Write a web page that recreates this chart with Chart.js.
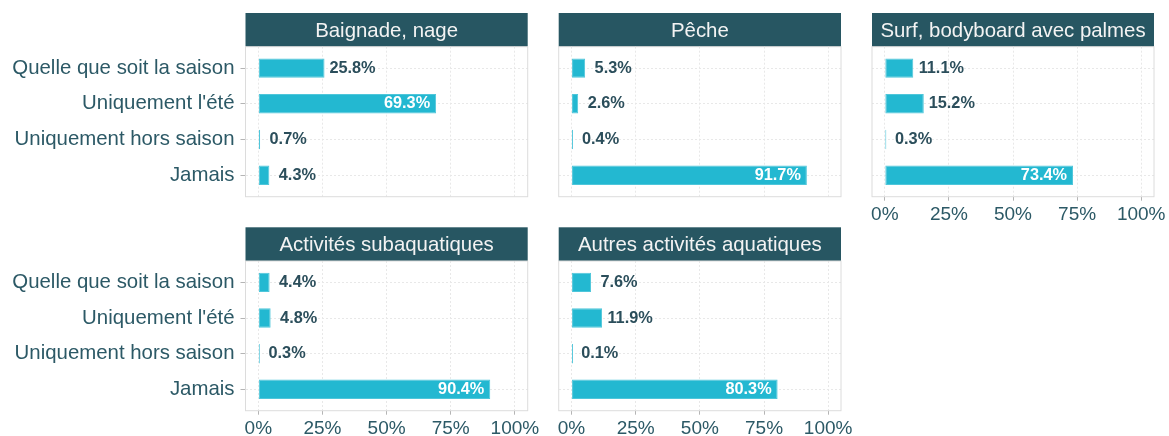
<!DOCTYPE html>
<html>
<head>
<meta charset="utf-8">
<script src="https://cdn.jsdelivr.net/npm/chart.js@4"></script>
<style>
  body { margin: 0; background: #fff; }
  #wrap { position: relative; width: 1169px; height: 436px; }
  #wrap canvas { position: absolute; left: 0; top: 0; }
</style>
</head>
<body>
<div id="wrap"></div>
<script>
const categories = ['Quelle que soit la saison', "Uniquement l'été", 'Uniquement hors saison', 'Jamais'];
const activities = ['Baignade, nage', 'Pêche', 'Surf, bodyboard avec palmes', 'Activités subaquatiques', 'Autres activités aquatiques'];
const baignade = [25.8, 69.3, 0.7, 4.3];
const peche = [5.3, 2.6, 0.4, 91.7];
const surf = [11.1, 15.2, 0.3, 73.4];
const subaquatiques = [4.4, 4.8, 0.3, 90.4];
const autres = [7.6, 11.9, 0.1, 80.3];
const xTicks = [0, 25, 50, 75, 100];

const FONT = "'Liberation Sans', Arial, sans-serif";
const textColor = '#2c5966';
const labelColor = '#2b4e5b';
const barColor = '#23b8d1';
const stripColor = '#275662';
const W = 1169, H = 436;

// panel boxes (plot area only, strip sits above)
const panels = [
  { title: activities[0], values: baignade,      left: 245.5, right: 527.7, top: 46.7, bottom: 196.7, yLabels: true,  xLabels: false },
  { title: activities[1], values: peche,         left: 558.7, right: 841,   top: 46.7, bottom: 196.7, yLabels: false, xLabels: false },
  { title: activities[2], values: surf,          left: 872,   right: 1154,  top: 46.7, bottom: 196.7, yLabels: false, xLabels: true },
  { title: activities[3], values: subaquatiques, left: 245.5, right: 527.7, top: 261,  bottom: 410.7, yLabels: true,  xLabels: true },
  { title: activities[4], values: autres,        left: 558.7, right: 841,   top: 261,  bottom: 410.7, yLabels: false, xLabels: true }
];
const stripH = 33.7;
const xAxisH = 25;

const stripPlugin = {
  id: 'strip',
  beforeDraw(chart, args, opts) {
    const { ctx, chartArea: a } = chart;
    ctx.save();
    ctx.fillStyle = stripColor;
    ctx.fillRect(a.left, a.top - stripH, a.right - a.left, stripH);
    ctx.fillStyle = '#f3f3f3';
    ctx.font = `20.4px ${FONT}`;
    ctx.textAlign = 'center';
    ctx.textBaseline = 'alphabetic';
    ctx.fillText(opts.text, (a.left + a.right) / 2, a.top - stripH / 2 + 7.3);
    ctx.restore();
  },
  afterDraw(chart) {
    const { ctx, chartArea: a } = chart;
    ctx.save();
    ctx.strokeStyle = '#dcdcdc';
    ctx.lineWidth = 1;
    ctx.strokeRect(a.left, a.top, a.right - a.left, a.bottom - a.top);
    ctx.restore();
  }
};

const valuePlugin = {
  id: 'values',
  afterDatasetsDraw(chart) {
    const { ctx } = chart;
    const meta = chart.getDatasetMeta(0);
    const data = chart.data.datasets[0].data;
    ctx.save();
    ctx.font = `bold 16.3px ${FONT}`;
    ctx.textBaseline = 'middle';
    meta.data.forEach((bar, i) => {
      const v = data[i].x;
      const txt = v.toFixed(1) + '%';
      if (v > 50) {
        ctx.fillStyle = '#ffffff';
        ctx.textAlign = 'right';
        ctx.fillText(txt, bar.x - 6, bar.y);
      } else {
        ctx.fillStyle = labelColor;
        ctx.textAlign = 'center';
        ctx.fillText(txt, bar.base + (v / 110) * (chart.chartArea.right - chart.chartArea.left) + 27.5, bar.y);
      }
    });
    ctx.restore();
  }
};

const wrap = document.getElementById('wrap');

panels.forEach(p => {
  const canvas = document.createElement('canvas');
  canvas.width = W;
  canvas.height = H;
  wrap.appendChild(canvas);

  const yW = p.yLabels ? p.left : 0;
  const xH = p.xLabels ? xAxisH : 0;

  new Chart(canvas, {
    type: 'bar',
    data: {
      datasets: [{
        data: p.values.map((v, i) => ({ x: v, y: i })),
        backgroundColor: barColor,
        borderColor: '#4fc6da',
        borderWidth: 1,
        borderSkipped: false,
        minBarLength: 1.5,
        barPercentage: 0.545,
        categoryPercentage: 1
      }]
    },
    options: {
      indexAxis: 'y',
      responsive: false,
      animation: false,
      events: [],
      layout: { padding: { left: p.left - yW, right: W - p.right, top: p.top, bottom: H - p.bottom - xH } },
      plugins: {
        legend: { display: false },
        tooltip: { enabled: false },
        strip: { text: p.title }
      },
      scales: {
        x: {
          type: 'linear',
          min: -5,
          max: 105,
          afterBuildTicks: s => { s.ticks = xTicks.map(v => ({ value: v })); },
          afterFit: s => { s.height = xH; s.paddingLeft = 0; s.paddingRight = 0; },
          border: { display: false, dash: [2, 2] },
          grid: { color: '#e8e8e8', drawTicks: p.xLabels, tickLength: 4, tickColor: '#b5b5b5', tickBorderDash: [] },
          ticks: {
            display: p.xLabels, padding: 3, maxRotation: 0, autoSkip: false,
            color: textColor, font: { family: FONT, size: 19 },
            callback: v => v + '%'
          }
        },
        y: {
          type: 'linear',
          reverse: true,
          offset: false,
          min: -0.6,
          max: 3.6,
          afterBuildTicks: s => { s.ticks = categories.map((c, i) => ({ value: i })); },
          afterFit: s => { s.width = yW; s.paddingTop = 0; s.paddingBottom = 0; },
          border: { display: false, dash: [2, 2] },
          grid: { offset: false, color: '#e8e8e8', drawTicks: p.yLabels, tickLength: 5, tickColor: '#b5b5b5', tickBorderDash: [] },
          ticks: {
            display: p.yLabels, padding: 6, autoSkip: false,
            color: textColor, font: { family: FONT, size: 20.4 },
            callback: v => categories[v]
          }
        }
      }
    },
    plugins: [stripPlugin, valuePlugin]
  });
});
</script>
</body>
</html>
